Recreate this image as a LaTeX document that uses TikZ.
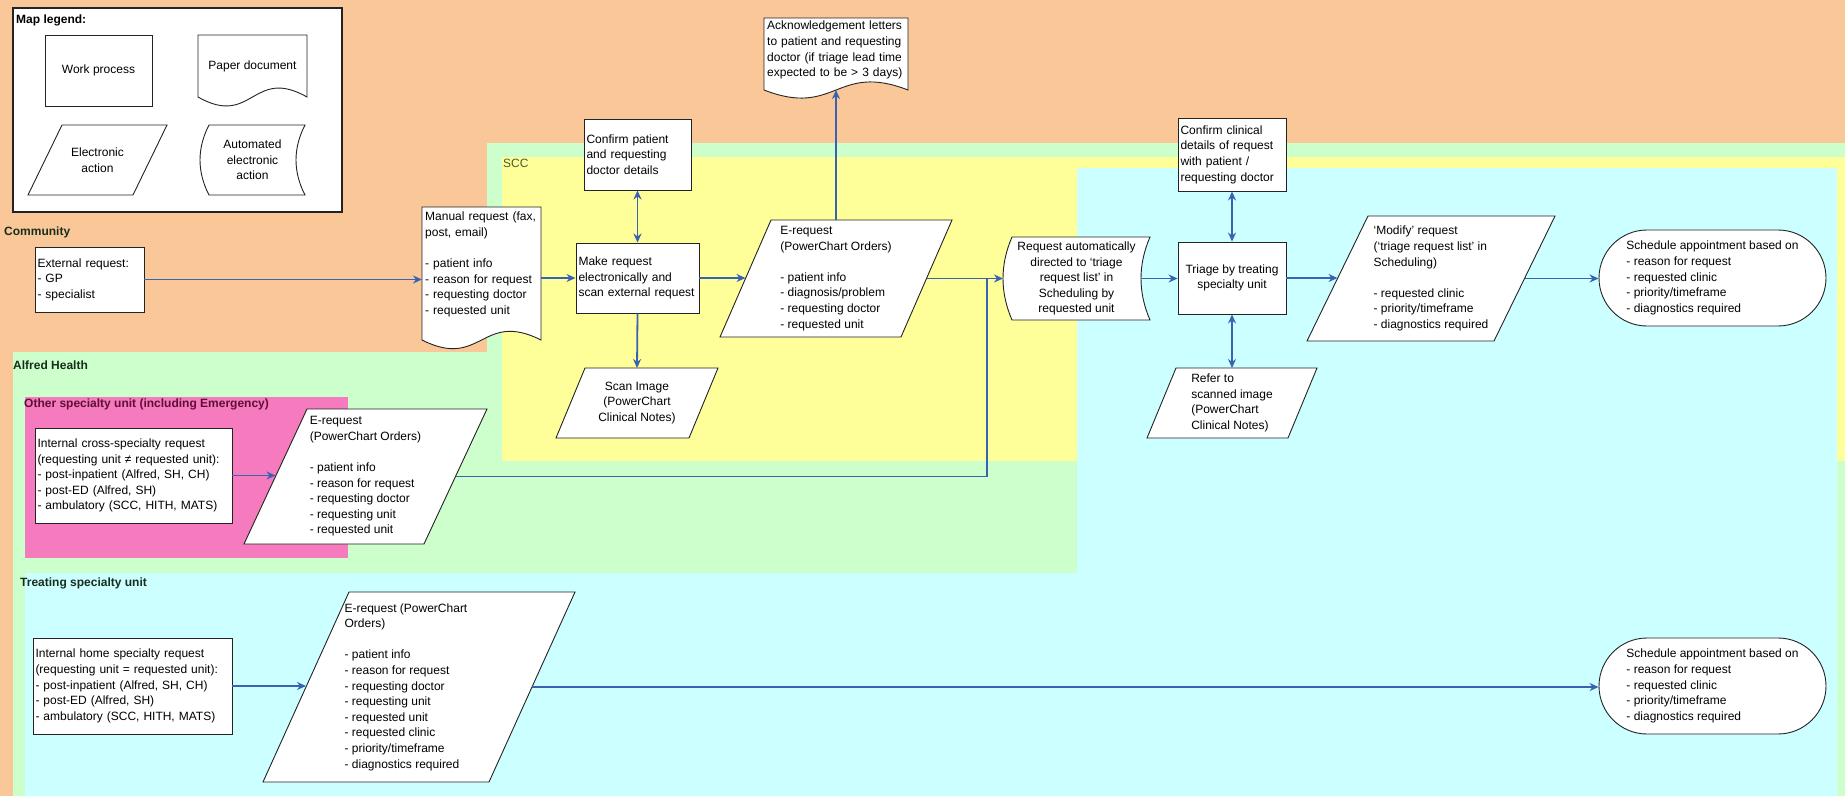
\documentclass[tikz,border=0pt]{standalone}
\usepackage{fontspec}
\setmainfont{Liberation Sans}
\usetikzlibrary{arrows.meta,calc}
\pgfdeclarelayer{regions}
\pgfdeclarelayer{outlines}
\pgfsetlayers{regions,outlines,main}
\definecolor{orangebg}{RGB}{250,200,152}
\definecolor{greenbg}{RGB}{204,255,204}
\definecolor{yellowbg}{RGB}{255,255,153}
\definecolor{cyanbg}{RGB}{204,255,255}
\definecolor{pinkbg}{RGB}{245,122,190}
\definecolor{flowc}{RGB}{58,98,178}
\definecolor{outl}{RGB}{35,35,35}
\definecolor{lbl}{RGB}{25,45,30}
\definecolor{lblpink}{RGB}{95,15,55}
\definecolor{lblscc}{RGB}{70,90,55}
\newcommand\dfont{\fontsize{12}{15.6}\selectfont}
\newcommand\mkpara[2]{%
  \begin{pgfonlayer}{outlines}
  \draw[shpline] ($(#1.north west)+(#2,0)$) -- (#1.north east) -- ($(#1.south east)+(-#2,0)$) -- (#1.south west) -- cycle;
  \end{pgfonlayer}
  \coordinate (#1-l) at ($(#1.west)+(#2/2,0)$);
  \coordinate (#1-r) at ($(#1.east)+(-#2/2,0)$);}
\newcommand\mkdoc[2]{%
  \begin{pgfonlayer}{outlines}
  \draw[shpline] (#1.south west) -- (#1.north west) -- (#1.north east) -- (#1.south east)
    .. controls ($(#1.south)+(0,-#2)$) and ($(#1.south)+(0,#2)$) .. (#1.south west) -- cycle;
  \end{pgfonlayer}}
\newcommand\mkauto[2]{%
  \begin{pgfonlayer}{outlines}
  \draw[shpline] ($(#1.north west)+(#2,0)$) -- (#1.north east)
    .. controls ($(#1.north east)!0.3333!(#1.south east)+(-1.333*#2,0)$) and ($(#1.north east)!0.6667!(#1.south east)+(-1.333*#2,0)$) .. (#1.south east)
    -- ($(#1.south west)+(#2,0)$)
    .. controls ($(#1.south west)!0.3333!(#1.north west)+(-0.333*#2,0)$) and ($(#1.south west)!0.6667!(#1.north west)+(-0.333*#2,0)$) .. ($(#1.north west)+(#2,0)$) -- cycle;
  \end{pgfonlayer}
  \coordinate (#1-r) at ($(#1.east)+(-#2,0)$);}
\begin{document}
\begin{tikzpicture}[x=1pt,y=-1pt,
  every node/.style={font=\dfont, text=black},
  shpline/.style={draw=outl, fill=white, line width=0.9pt},
  procbox/.style={draw=outl, fill=white, line width=0.9pt, inner xsep=2.5pt, inner ysep=0pt, align=left},
  geom/.style={draw=none, inner sep=0pt, outer sep=0pt, align=left},
  doctext/.style={anchor=north west, inner sep=0pt, align=left},
  regionlabel/.style={anchor=west, inner sep=0pt, font=\dfont\bfseries, text=lbl},
  conn/.style={draw=flowc, line width=1.8pt, -{Stealth[length=9pt,width=8pt]}},
  connboth/.style={draw=flowc, line width=1.8pt, {Stealth[length=9pt,width=8pt]}-{Stealth[length=9pt,width=8pt]}},
  connline/.style={draw=flowc, line width=1.8pt}]
\useasboundingbox (0,0) rectangle (1845,796);
% ---------------- regions
\begin{pgfonlayer}{regions}
\fill[orangebg] (0,0) rectangle (1845,796);
\fill[greenbg] (13,352) -- (487,352) -- (487,143) -- (1845,143) -- (1845,796) -- (13,796) -- cycle;
\fill[yellowbg] (502,157) rectangle (1845,461);
\fill[cyanbg] (1077,168) -- (1837,168) -- (1837,796) -- (25,796) -- (25,573) -- (1077,573) -- cycle;
\fill[pinkbg] (25,397) rectangle (348,558);
\node[draw=outl, fill=white, line width=1.5pt, minimum width=329pt, minimum height=204pt, inner sep=0pt] (legend) at (177.5,110) {};
\end{pgfonlayer}
% ---------------- region labels
\node[regionlabel] (lcomm) at (4,232) {Community};
\node[regionlabel] (lalfred) at (13,365) {Alfred Health};
\node[regionlabel, text=lblpink] (lother) at (24,404) {Other specialty unit (including Emergency)};
\node[regionlabel, font=\dfont, text=lblscc] (lscc) at (503,163) {SCC};
\node[regionlabel] (ltreat) at (20,583) {Treating specialty unit};
% ---------------- legend
\node[regionlabel, text=black] (legtitle) at (16,20) {Map legend:};
\node[procbox, align=center, minimum width=107pt, minimum height=71pt] (lwork) at (98.5,70.5) {Work process};
\node[geom, align=center, minimum width=109pt, minimum height=62pt] (ldoc) at (252.5,66) {Paper document};
\mkdoc{ldoc}{31}
\node[geom, align=center, minimum width=139pt, minimum height=70pt] (lelec) at (97.5,160) {Electronic\\action};
\mkpara{lelec}{34}
\node[geom, align=center, minimum width=105pt, minimum height=70pt] (lauto) at (252.5,160) {Automated\\electronic\\action};
\mkauto{lauto}{9}
% ---------------- community / SCC
\node[procbox, minimum width=109pt, minimum height=65pt, text width=104pt] (ext) at (89.5,279.5) {External request:\\- GP\\- specialist};
\node[geom, minimum width=119pt, minimum height=133pt] (manual) at (481.5,273.5) {};
\node[doctext, text width=114pt] (manual-t) at ($(manual.north west)+(3,5)$) {Manual request (fax,\\post, email)\\[15.6pt]- patient info\\- reason for request\\- requesting doctor\\- requested unit};
\mkdoc{manual}{30}
\node[procbox, minimum width=123pt, minimum height=70pt, text width=118pt] (make) at (637.5,278) {Make request\\electronically and\\scan external request};
\node[procbox, minimum width=107pt, minimum height=71pt, text width=102pt] (confirmp) at (637.5,154.5) {Confirm patient\\and requesting\\doctor details};
\node[geom, align=center, minimum width=162pt, minimum height=70pt] (scan) at (637,403) {Scan Image\\(PowerChart\\Clinical Notes)};
\mkpara{scan}{29}
\node[geom, minimum width=232pt, minimum height=117pt] (ereq1) at (836,278.5) {E-request\\(PowerChart Orders)\\[15.6pt]- patient info\\- diagnosis/problem\\- requesting doctor\\- requested unit};
\mkpara{ereq1}{51}
\node[geom, minimum width=144pt, minimum height=72pt] (ack) at (836,54) {};
\node[doctext, text width=140pt] (ack-t) at ($(ack.north west)+(3,3)$) {Acknowledgement letters\\to patient and requesting\\doctor (if triage lead time\\expected to be > 3 days)};
\mkdoc{ack}{28}
% ---------------- treating specialty (top)
\node[geom, align=center, minimum width=147pt, minimum height=83pt] (auto) at (1076.5,278.5) {Request automatically\\directed to `triage\\request list' in\\Scheduling by\\requested unit};
\mkauto{auto}{9}
\node[procbox, align=center, minimum width=108pt, minimum height=72pt] (triage) at (1232,278) {Triage by treating\\specialty unit};
\node[procbox, minimum width=108pt, minimum height=73pt, text width=103pt] (confirmc) at (1232,154.5) {Confirm clinical\\details of request\\with patient /\\requesting doctor};
\node[geom, minimum width=170pt, minimum height=70pt] (refer) at (1232,403) {Refer to\\scanned image\\(PowerChart\\Clinical Notes)};
\mkpara{refer}{29}
\node[geom, minimum width=248pt, minimum height=125pt] (modify) at (1431,278.5) {`Modify' request\\(`triage request list' in\\Scheduling)\\[15.6pt]- requested clinic\\- priority/timeframe\\- diagnostics required};
\mkpara{modify}{61}
\node[procbox, rounded corners=48pt, minimum width=227pt, minimum height=96pt] (sched1) at (1712.5,278) {Schedule appointment based on\\- reason for request\\- requested clinic\\- priority/timeframe\\- diagnostics required};
% ---------------- other specialty unit
\node[procbox, minimum width=197pt, minimum height=95pt, text width=192pt] (intcross) at (133.5,475.5) {Internal cross-specialty request\\(requesting unit ≠ requested unit):\\- post-inpatient (Alfred, SH, CH)\\- post-ED (Alfred, SH)\\- ambulatory (SCC, HITH, MATS)};
\node[geom, minimum width=243pt, minimum height=135pt] (ereq2) at (365.5,476.5) {E-request\\(PowerChart Orders)\\[15.6pt]- patient info\\- reason for request\\- requesting doctor\\- requesting unit\\- requested unit};
\mkpara{ereq2}{63}
% ---------------- treating specialty (bottom)
\node[procbox, minimum width=199pt, minimum height=96pt, text width=194pt] (inthome) at (132.5,686) {Internal home specialty request\\(requesting unit = requested unit):\\- post-inpatient (Alfred, SH, CH)\\- post-ED (Alfred, SH)\\- ambulatory (SCC, HITH, MATS)};
\node[geom, minimum width=312pt, minimum height=190pt] (ereq3) at (419,687) {};
\node[geom] (ereq3-t) at ($(ereq3.center)+(-13,0)$) {E-request (PowerChart\\Orders)\\[15.6pt]- patient info\\- reason for request\\- requesting doctor\\- requesting unit\\- requested unit\\- requested clinic\\- priority/timeframe\\- diagnostics required};
\mkpara{ereq3}{86}
\node[procbox, rounded corners=48pt, minimum width=227pt, minimum height=96pt] (sched2) at (1712.5,686) {Schedule appointment based on\\- reason for request\\- requested clinic\\- priority/timeframe\\- diagnostics required};
% ---------------- connectors
\coordinate (merge) at ($(auto.west)+(-16,0)$);
\draw[conn] (ext.east) -- (ext.east -| manual.west);
\draw[conn] (manual.east |- make.west) -- (make.west);
\draw[conn] (make.east) -- (make.east -| ereq1-l);
\draw[connboth] (confirmp.south) -- (make.north);
\draw[conn] (make.south) -- (scan.north);
\draw[conn] (ereq1.north) -- (ack.south);
\draw[conn] (ereq1-r) -- (ereq1-r -| auto.west);
\draw[connline] (ereq2-r) -| (merge);
\draw[conn] (auto-r) -- (auto-r -| triage.west);
\draw[connboth] (confirmc.south) -- (triage.north);
\draw[connboth] (triage.south) -- (refer.north);
\draw[conn] (triage.east) -- (triage.east -| modify-l);
\draw[conn] (modify-r) -- (modify-r -| sched1.west);
\draw[conn] (intcross.east) -- (intcross.east -| ereq2-l);
\draw[conn] (inthome.east) -- (inthome.east -| ereq3-l);
\draw[conn] (ereq3-r) -- (ereq3-r -| sched2.west);
\end{tikzpicture}
\end{document}
